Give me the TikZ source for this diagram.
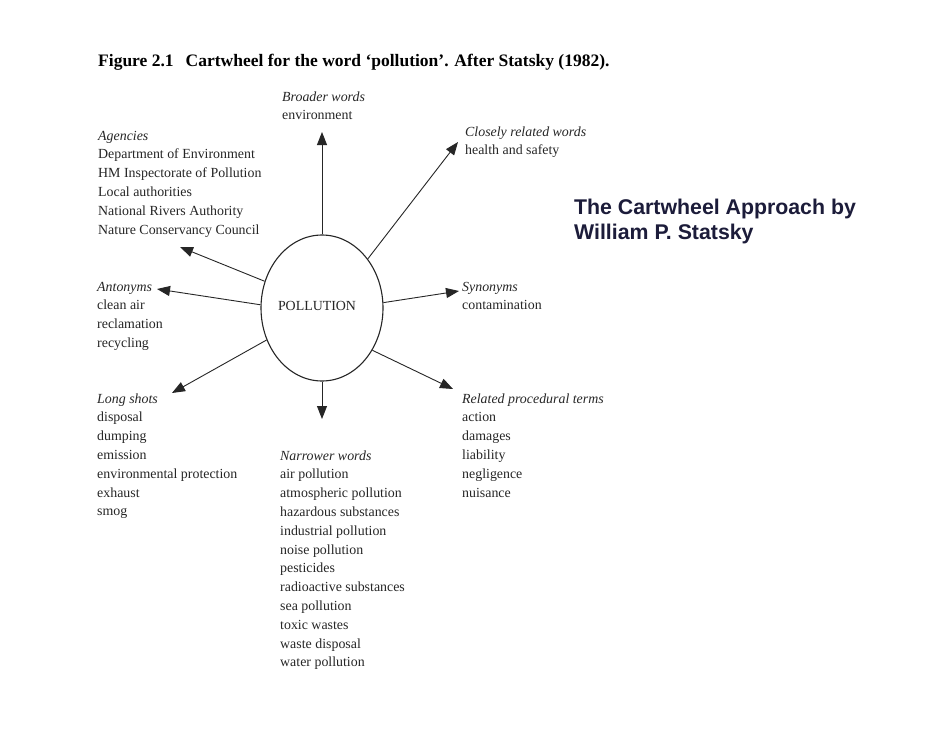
\documentclass[tikz,border=0pt]{standalone}
\usepackage{fontspec}
\setmainfont{Liberation Serif}
\setsansfont{Liberation Sans}
\usetikzlibrary{arrows.meta,shapes.geometric}
\definecolor{ink}{HTML}{262626}
\definecolor{navy}{HTML}{1C1C3A}
\begin{document}
\begin{tikzpicture}[x=1pt,y=-1pt,
  block/.style={anchor=base west,inner sep=0pt,align=left,text=ink,
    font=\fontsize{13.9}{18.8}\selectfont},
  spoke/.style={draw=ink,line width=0.9pt,-{Triangle[length=13pt,width=10pt]}}]
\useasboundingbox[fill=white] (0,0) rectangle (942,728);
% title
\node[anchor=base west,inner sep=0pt,font=\fontsize{17.5}{21}\selectfont\bfseries] (title) at (98,66)
  {Figure 2.1\hspace{12pt}Cartwheel for the word `pollution'. After Statsky (1982).};
\node[anchor=base west,inner sep=0pt,align=left,text=navy,font=\fontsize{21.3}{25}\selectfont\sffamily\bfseries] (caption) at (574,239)
  {The Cartwheel Approach by\\William P. Statsky};
% centre
\node[ellipse,draw=ink,line width=1.1pt,minimum width=122pt,minimum height=146pt,inner sep=0pt] (ell) at (322,308) {};
\node[inner sep=0pt,font=\fontsize{13.9}{16}\selectfont,text=ink] (pol) at (317,306) {POLLUTION};
% blocks (anchored at the baseline of their last line)
\node[block] (broader) at (282,119.8) {\textit{Broader words}\\environment};
\node[block] (close) at (465,154.8) {\textit{Closely related words}\\health and safety};
\node[block] (agencies) at (98,234) {\textit{Agencies}\\Department of Environment\\HM Inspectorate of Pollution\\Local authorities\\National Rivers Authority\\Nature Conservancy Council};
\node[block] (anton) at (97,347.4) {\textit{Antonyms}\\clean air\\reclamation\\recycling};
\node[block] (syn) at (462,309.8) {\textit{Synonyms}\\contamination};
\node[block] (long) at (97,515.8) {\textit{Long shots}\\disposal\\dumping\\emission\\environmental protection\\exhaust\\smog};
\node[block] (proc) at (462,497) {\textit{Related procedural terms}\\action\\damages\\liability\\negligence\\nuisance};
\node[block] (narrow) at (280,666.8) {\textit{Narrower words}\\air pollution\\atmospheric pollution\\hazardous substances\\industrial pollution\\noise pollution\\pesticides\\radioactive substances\\sea pollution\\toxic wastes\\waste disposal\\water pollution};
% arrow tips
\coordinate (tUp) at (322,132);
\coordinate (tNE) at (458,142);
\coordinate (tAg) at (180,247);
\coordinate (tAn) at (157,289);
\coordinate (tSy) at (459,291);
\coordinate (tLo) at (172,393);
\coordinate (tDn) at (322,419);
\coordinate (tPr) at (453,389);
\draw[spoke] (ell.90) -- (tUp);
\draw[spoke] (ell.47) -- (tNE);
\draw[spoke] (ell.155) -- (tAg);
\draw[spoke] (ell.177) -- (tAn);
\draw[spoke] (ell.5) -- (tSy);
\draw[spoke] (ell.210) -- (tLo);
\draw[spoke] (ell.270) -- (tDn);
\draw[spoke] (ell.320) -- (tPr);
\end{tikzpicture}
\end{document}
